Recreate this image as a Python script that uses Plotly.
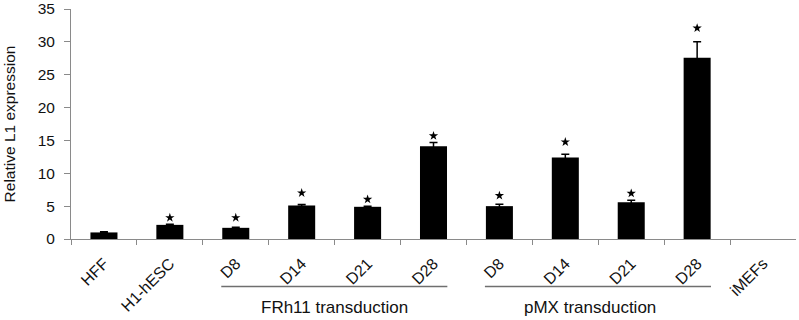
import plotly.graph_objects as go

labels = ["HFF", "H1-hESC", "D8", "D14", "D21", "D28", "D8", "D14", "D21", "D28", "iMEFs"]
values = [1.0, 2.15, 1.7, 5.1, 4.9, 14.1, 5.0, 12.4, 5.6, 27.6, 0]
errors = [0.1, 0.1, 0.1, 0.15, 0.1, 0.6, 0.3, 0.5, 0.3, 2.4, None]
star_y = [None, 3.24, 3.24, 7.0, 6.04, 15.7, 6.6, 14.76, 6.95, 32.1, None]
groups = [("FRh11 transduction", 2, 5), ("pMX transduction", 6, 9)]
y_ticks = [0, 5, 10, 15, 20, 25, 30, 35]

xpos = list(range(len(labels)))
FONT = "Liberation Sans, Arial, sans-serif"
GRAY = "#8a8a8a"

fig = go.Figure()
fig.add_trace(go.Bar(
    x=xpos, y=values, width=0.41,
    marker=dict(color="black", line=dict(width=0)),
))
ex = [x for x, e in zip(xpos, errors) if e is not None]
ey = [v for v, e in zip(values, errors) if e is not None]
ee = [e for e in errors if e is not None]
fig.add_trace(go.Scatter(
    x=ex, y=ey, mode="markers", marker=dict(size=0.1, color="black", opacity=0),
    error_y=dict(type="data", array=ee, visible=True, color="black", thickness=1.5, width=4),
))
sx = [x for x, s in zip(xpos, star_y) if s is not None]
sy = [s for s in star_y if s is not None]
fig.add_trace(go.Scatter(
    x=sx, y=sy, mode="markers",
    marker=dict(symbol="star", size=7, color="black"),
))

for name, a, b in groups:
    fig.add_shape(type="line", xref="x", yref="paper",
                  x0=a - 0.22, x1=b + 0.21, y0=-0.207, y1=-0.207,
                  line=dict(color="#6f6f6f", width=1.5))
    fig.add_annotation(text=name, xref="x", yref="paper",
                       x=(a + b) / 2 if a == 2 else (a + b) / 2 - 0.13,
                       y=-0.296, showarrow=False, yanchor="middle",
                       font=dict(family=FONT, size=17, color="#111"))

fig.update_layout(
    width=799, height=320,
    margin=dict(l=71, r=3, t=9, b=81),
    plot_bgcolor="white", paper_bgcolor="white",
    showlegend=False,
    font=dict(family=FONT, color="#111"),
    xaxis=dict(
        range=[-0.5, 10.5], tickmode="array", tickvals=xpos, ticktext=labels,
        tickangle=-45, ticks="", showgrid=False, zeroline=False, automargin=False,
        showline=True, linecolor=GRAY, linewidth=1, ticklabelstandoff=8,
        tickfont=dict(family=FONT, size=16, color="#111"),
        minor=dict(tickmode="array", tickvals=[i - 0.5 for i in range(len(labels))],
                   ticks="outside", ticklen=5, tickcolor=GRAY, tickwidth=1, showgrid=False),
    ),
    yaxis=dict(
        range=[0, 35], tickmode="array", tickvals=y_ticks, automargin=False,
        ticks="outside", ticklen=6, tickcolor=GRAY, showgrid=False, zeroline=False,
        showline=True, linecolor=GRAY, linewidth=1, ticklabelstandoff=6,
        tickfont=dict(family=FONT, size=15.5, color="#111"),
        title=dict(text="Relative L1 expression", font=dict(family=FONT, size=15.5, color="#111"), standoff=18),
    ),
)

fig.write_html("out.html", config={"displayModeBar": False},
               post_script="document.body.style.margin='0';")
